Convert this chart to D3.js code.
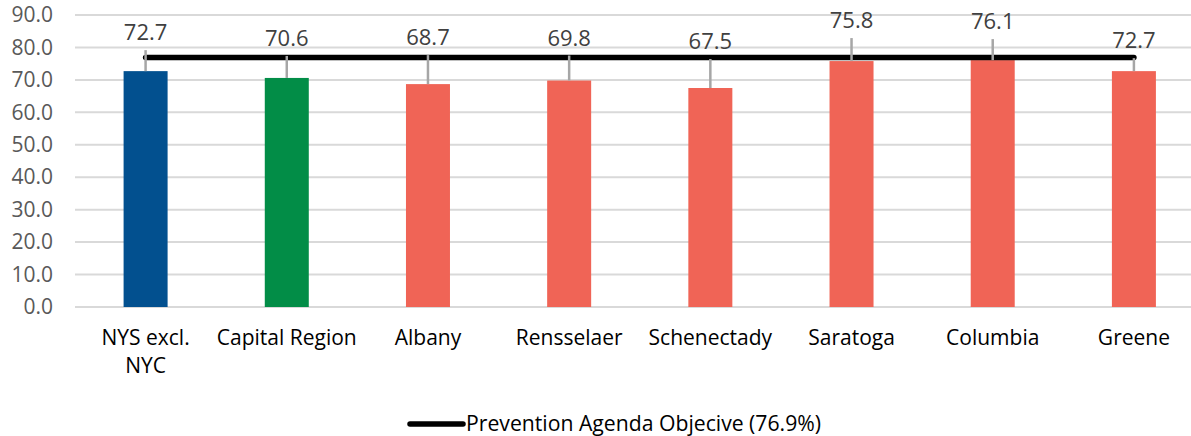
<!DOCTYPE html>
<html>
<head>
<meta charset="utf-8">
<script src="https://cdn.jsdelivr.net/npm/d3@7"></script>
<style>
  body { margin: 0; background: #fff; }
  svg { display: block; font-family: "Open Sans", sans-serif; }
</style>
</head>
<body>
<svg id="chart"></svg>
<script>
const categories = ['NYS excl. NYC', 'Capital Region', 'Albany', 'Rensselaer', 'Schenectady', 'Saratoga', 'Columbia', 'Greene'];
const values = [72.7, 70.6, 68.7, 69.8, 67.5, 75.8, 76.1, 72.7];
const barColors = ['#02508f', '#028d47', '#f06456', '#f06456', '#f06456', '#f06456', '#f06456', '#f06456'];
const objective = 76.9;
const objectiveLabel = 'Prevention Agenda Objecive (76.9%)';
const yTicks = [0, 10, 20, 30, 40, 50, 60, 70, 80, 90];
// how far each data label sits above its bar (px), as placed in the original
const labelLift = [31, 32, 39, 35, 39, 33, 31, 23];

const width = 1191, height = 436;
const svg = d3.select('#chart').attr('width', width).attr('height', height);

const x = d3.scaleBand().domain(categories).range([75, 1204.5]).padding(0);
const y = d3.scaleLinear().domain([0, 90]).range([307, 15]);
const barW = 44;
const cx = d => x(d) + x.bandwidth() / 2;

// gridlines
svg.append('g').selectAll('line').data(yTicks).enter().append('line')
  .attr('x1', 75).attr('x2', width)
  .attr('y1', d => y(d)).attr('y2', d => y(d))
  .attr('stroke', '#d9d9d9').attr('stroke-width', 2);

// y axis labels
const yaxis = d3.axisLeft(y).tickValues(yTicks).tickFormat(d3.format('.1f')).tickSize(0).tickPadding(0);
const yg = svg.append('g').attr('transform', 'translate(53,0)').call(yaxis);
yg.select('.domain').remove();
yg.selectAll('text').attr('font-size', 21).attr('fill', '#595959').attr('font-family', '"Open Sans", sans-serif');

// bars
svg.append('g').selectAll('rect').data(categories).enter().append('rect')
  .attr('x', d => cx(d) - barW / 2)
  .attr('y', (d, i) => y(values[i]))
  .attr('width', barW)
  .attr('height', (d, i) => y(0) - y(values[i]))
  .attr('fill', (d, i) => barColors[i]);

// objective line
svg.append('line')
  .attr('x1', cx(categories[0])).attr('x2', cx(categories[categories.length - 1]))
  .attr('y1', y(objective)).attr('y2', y(objective))
  .attr('stroke', '#000').attr('stroke-width', 5.5).attr('stroke-linecap', 'round');

// leader lines + labels
const lab = svg.append('g');
categories.forEach((c, i) => {
  const top = y(values[i]);
  const base = top - labelLift[i];
  lab.append('line')
    .attr('x1', cx(c)).attr('x2', cx(c))
    .attr('y1', base + 10).attr('y2', top)
    .attr('stroke', '#a6a6a6').attr('stroke-width', 2.5);
  lab.append('text')
    .attr('x', cx(c)).attr('y', base)
    .attr('text-anchor', 'middle')
    .attr('font-size', 22).attr('fill', '#404040')
    .text(values[i].toFixed(1));
});

// x axis labels
const xaxis = d3.axisBottom(x).tickSize(0).tickPadding(0);
const xg = svg.append('g').attr('transform', 'translate(0,307)').call(xaxis);
xg.select('.domain').remove();
xg.selectAll('text').remove();
xg.selectAll('.tick').each(function(d) {
  const words = d === 'NYS excl. NYC' ? ['NYS excl.', 'NYC'] : [d];
  const t = d3.select(this).append('text')
    .attr('text-anchor', 'middle').attr('font-size', 21).attr('fill', '#000')
    .attr('font-family', '"Open Sans", sans-serif');
  words.forEach((w, k) => t.append('tspan').attr('x', 0).attr('y', 38 + k * 28).text(w));
});

// legend
const lg = svg.append('g');
lg.append('line').attr('x1', 410).attr('x2', 463).attr('y1', 424).attr('y2', 424)
  .attr('stroke', '#000').attr('stroke-width', 5.5).attr('stroke-linecap', 'round');
lg.append('text').attr('x', 466).attr('y', 431).attr('font-size', 21.2).attr('fill', '#000')
  .text(objectiveLabel);
</script>
</body>
</html>
